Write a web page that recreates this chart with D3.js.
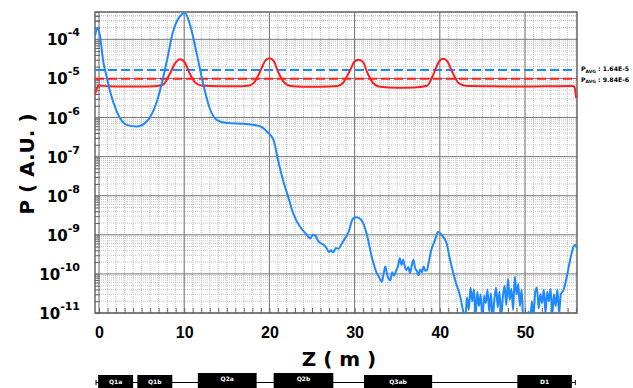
<!DOCTYPE html>
<html>
<head>
<meta charset="utf-8">
<script src="https://cdn.jsdelivr.net/npm/d3@7"></script>
<style>
  body { margin: 0; background: #fff; }
  svg { display: block; font-family: "DejaVu Sans", Verdana, sans-serif; }
</style>
</head>
<body>
<svg id="chart"></svg>
<script>
// blue: P along Z (m)
var blueZ = [-0.47, -0.2, 0.1, 0.5, 0.9, 1.3, 2.1, 3.25, 4.4, 5.6, 6.8, 7.95, 8.7, 9.7, 10.1, 10.7, 11.5, 12.25, 13.0, 13.8, 15.0, 17.3, 18.9, 19.7, 20.5,
  21.0, 21.6, 22.2, 22.8, 23.6, 24.4, 24.8, 25.1, 25.4, 25.7, 26.1, 26.4, 26.7, 27.0, 27.2, 27.5, 27.8, 28.1, 28.5, 29.3, 29.8, 30.2, 30.8, 31.4, 32.0, 32.6,
  32.9, 33.2, 33.4, 33.6, 33.8, 34.0, 34.2, 34.4, 34.6, 34.9, 35.1, 35.3, 35.5, 35.7, 35.9, 36.1, 36.3, 36.5, 36.7, 36.9, 37.1, 37.3, 37.5, 37.7, 37.9,
  38.1, 38.3, 38.5, 38.7, 39.0, 39.4, 39.8, 40.2, 40.8, 41.2, 41.8, 42.4, 42.8,
  43.0, 43.2, 43.4, 43.6, 43.8, 44.0, 44.2, 44.4, 44.6, 44.8, 45.0, 45.2, 45.4, 45.6, 45.8, 46.0, 46.2, 46.4, 46.6, 46.8,
  47.0, 47.2, 47.4, 47.6, 47.8, 48.0, 48.2, 48.4, 48.6, 48.8, 49.0, 49.2, 49.4, 49.6, 49.8, 50.0, 50.2, 50.4, 50.6, 50.8,
  51.0, 51.2, 51.4, 51.6, 51.8, 52.0, 52.2, 52.4, 52.6, 52.8, 53.0, 53.2, 53.4, 53.6, 53.8, 54.0, 54.2, 54.5, 54.9, 55.3, 55.7, 55.9, 56.1];
var blueP = [1.2e-4, 1.9e-4, 1.3e-4, 2.7e-5, 1.1e-5, 4.6e-6, 1.4e-6, 6.5e-7, 5.9e-7, 7.9e-7, 2.6e-6, 2.7e-5, 1.6e-4, 4.3e-4, 4.7e-4, 2.3e-4, 4.0e-5, 6.9e-6, 1.7e-6, 8.7e-7, 7.2e-7, 6.8e-7, 6.0e-7, 4.4e-7, 2.6e-7,
  8.3e-8, 2.5e-8, 9.5e-9, 3.5e-9, 1.6e-9, 1.0e-9, 8.0e-10, 1.0e-9, 9.5e-10, 7.0e-10, 6.0e-10, 5.5e-10, 4.6e-10, 3.6e-10, 4.0e-10, 3.6e-10, 4.6e-10, 4.4e-10, 6.0e-10, 1.2e-9, 2.6e-9, 2.8e-9, 2.4e-9, 1.1e-9, 2.8e-10, 1.05e-10,
  8.0e-11, 6.3e-11, 1.0e-10, 1.55e-10, 1.0e-10, 7.5e-11, 6.9e-11, 1.1e-10, 9.0e-11, 1.26e-10, 1.6e-10, 2.5e-10, 1.7e-10, 2.3e-10, 1.5e-10, 1.26e-10, 1.5e-10, 1.05e-10, 1.6e-10, 2.3e-10, 1.4e-10, 1.2e-10, 9.3e-11, 1.3e-10, 1.1e-10,
  1.55e-10, 1.2e-10, 1.26e-10, 2.0e-10, 4.1e-10, 7.0e-10, 1.2e-9, 1.0e-9, 6.0e-10, 2.3e-10, 6.9e-11, 2.6e-11, 1.0e-11,
  8e-12, 2.5e-11, 1.2e-11, 4.5e-11, 2.0e-11, 4.0e-11, 9e-12, 3.5e-11, 1.5e-11, 3e-11, 6e-12, 2.8e-11, 1.8e-11, 4e-11, 1.1e-11, 3.2e-11, 7e-12, 2.2e-11, 4.5e-11, 1.4e-11,
  3.5e-11, 8e-12, 2.6e-11, 5e-11, 1.6e-11, 7.5e-11, 2.2e-11, 4.2e-11, 1.2e-11, 8.5e-11, 3e-11, 5.5e-11, 1.5e-11, 4e-11, 6e-12, 5e-12, 4e-12, 1.1e-11, 6e-12, 2e-11,
  9e-12, 3.5e-11, 4.5e-11, 1.3e-11, 3e-11, 1.8e-11, 4e-11, 1e-11, 3.5e-11, 2e-11, 4.2e-11, 9e-12, 3e-11, 1.5e-11, 4e-11, 1e-11, 3e-11, 3.8e-11, 8.5e-11, 2.3e-10, 5e-10, 5.5e-10, 4.5e-10];

// red: P along Z (m)
var redZ = [-0.47, -0.3, 0.0, 1, 3, 5, 6.5, 7.5, 8.3, 8.9, 9.5, 10.1, 10.6, 11.3, 12, 14, 16, 17.5, 18.2, 18.9, 19.5, 20.0, 20.5, 21.0, 21.8, 22.5,
  24, 26, 28, 28.6, 29.4, 30.0, 30.5, 31.0, 31.5, 32.2, 33, 35, 37, 38.5, 39.2, 39.9, 40.4, 40.9, 41.5, 42.2, 43, 46, 50, 53, 55.6, 55.8, 56.0];
var redP = [3.8e-6, 5.2e-6, 6.6e-6, 6.3e-6, 6.2e-6, 6.2e-6, 6.3e-6, 6.9e-6, 1.3e-5, 2.4e-5, 3.1e-5, 2.5e-5, 1.4e-5, 7.8e-6, 6.6e-6, 6.3e-6, 6.3e-6, 6.5e-6, 7.8e-6, 1.5e-5, 2.8e-5, 3.3e-5, 2.8e-5, 1.5e-5, 7.6e-6, 6.4e-6,
  6.1e-6, 6.1e-6, 6.4e-6, 7.5e-6, 1.5e-5, 2.7e-5, 3.0e-5, 2.6e-5, 1.4e-5, 7.5e-6, 6.1e-6, 5.8e-6, 5.9e-6, 6.5e-6, 1.2e-5, 2.7e-5, 3.2e-5, 2.7e-5, 1.4e-5, 7.6e-6, 6.5e-6, 6.3e-6, 6.2e-6, 6.3e-6, 6.4e-6, 6.0e-6, 3.2e-6];

var avgBlue = 1.64e-5;
var avgRed = 9.84e-6;
var avgLabels = [": 1.64E-5", ": 9.84E-6"];

var xTickLabels = [0, 10, 20, 30, 40, 50];
var yDecades = [-11, -10, -9, -8, -7, -6, -5, -4];

// beam line elements
var elemNames = ["Q1a", "Q1b", "Q2a", "Q2b", "Q3ab", "D1"];
var elemStart = [-0.1, 4.5, 11.6, 20.5, 31.1, 49.1];
var elemEnd = [4.0, 8.6, 18.5, 27.5, 39.1, 55.5];
var lineExtent = [-0.35, 55.9];

var svgWidth = 633, svgHeight = 388;
var margin = { top: 12, right: 56, bottom: 75, left: 95 };

var svg = d3.select("#chart")
    .attr("width", svgWidth)
    .attr("height", svgHeight);

var x = d3.scaleLinear()
    .domain([-0.47, 56.1])
    .range([margin.left, svgWidth - margin.right]);

var y = d3.scaleLog()
    .domain([1e-11, 5e-4])
    .range([svgHeight - margin.bottom, margin.top]);

var x0 = x.range()[0], x1 = x.range()[1];
var yTop = y.range()[1], yBot = y.range()[0];

svg.append("clipPath").attr("id", "plotClip")
  .append("rect")
    .attr("x", x0).attr("y", yTop)
    .attr("width", x1 - x0).attr("height", yBot - yTop);

var minorX = d3.range(0, 57, 1);
var minorY = [];
yDecades.forEach(function(e) {
  for (var k = 2; k <= 9; k++) {
    var v = k * Math.pow(10, e);
    if (v <= 5e-4) minorY.push(v);
  }
});
minorY.push(2e-4, 3e-4, 4e-4);
var majorY = yDecades.map(function(e) { return Math.pow(10, e); });

var grid = svg.append("g");

grid.selectAll(".mx").data(minorX).enter().append("line")
    .attr("x1", d => x(d)).attr("x2", d => x(d))
    .attr("y1", yTop).attr("y2", yBot)
    .attr("stroke", "#c4c4c4").attr("stroke-dasharray", "1,1");

grid.selectAll(".my").data(minorY).enter().append("line")
    .attr("x1", x0).attr("x2", x1)
    .attr("y1", d => y(d)).attr("y2", d => y(d))
    .attr("stroke", "#c4c4c4").attr("stroke-dasharray", "1,1");

grid.selectAll(".Mx").data(xTickLabels).enter().append("line")
    .attr("x1", d => x(d)).attr("x2", d => x(d))
    .attr("y1", yTop).attr("y2", yBot)
    .attr("stroke", "#777").attr("stroke-width", 1);

grid.selectAll(".My").data(majorY).enter().append("line")
    .attr("x1", x0).attr("x2", x1)
    .attr("y1", d => y(d)).attr("y2", d => y(d))
    .attr("stroke", "#777").attr("stroke-width", 1);

// bottom axis: small inner ticks every metre, labels every 10
var xAxis = svg.append("g")
    .attr("transform", "translate(0," + yBot + ")")
    .call(d3.axisBottom(x)
      .tickValues(minorX)
      .tickSize(-5)
      .tickPadding(14)
      .tickFormat(function(d) { return d % 10 === 0 ? d : ""; }));
xAxis.select(".domain").remove();
xAxis.selectAll("line").attr("stroke", "#666");
xAxis.selectAll("text")
    .attr("font-size", 16).attr("font-weight", "bold").attr("fill", "#000");

// left axis: inner ticks at log minors, decade labels with superscript
var yAxis = svg.append("g")
    .attr("transform", "translate(" + x0 + ",0)")
    .call(d3.axisLeft(y)
      .tickValues(minorY.concat(majorY))
      .tickSize(-5)
      .tickFormat(""));
yAxis.select(".domain").remove();
yAxis.selectAll("line").attr("stroke", "#666");

var yLab = svg.append("g").selectAll("text").data(yDecades).enter().append("text")
    .attr("x", 80)
    .attr("y", d => y(Math.pow(10, d)) + 6)
    .attr("text-anchor", "end")
    .attr("font-weight", "bold")
    .attr("fill", "#000");
yLab.append("tspan").attr("font-size", 15).text("10");
yLab.append("tspan").attr("font-size", 11).attr("dy", -9).text(d => "-" + Math.abs(d));

// frame
svg.append("rect")
    .attr("x", x0).attr("y", yTop)
    .attr("width", x1 - x0).attr("height", yBot - yTop)
    .attr("fill", "none").attr("stroke", "#666").attr("stroke-width", 1.5);

var plot = svg.append("g").attr("clip-path", "url(#plotClip)");

plot.append("line")
    .attr("x1", x0).attr("x2", x1)
    .attr("y1", y(avgBlue)).attr("y2", y(avgBlue))
    .attr("stroke", "#1e88ff").attr("stroke-width", 2).attr("stroke-dasharray", "9,4");
plot.append("line")
    .attr("x1", x0).attr("x2", x1)
    .attr("y1", y(avgRed)).attr("y2", y(avgRed))
    .attr("stroke", "#ff1e1e").attr("stroke-width", 2).attr("stroke-dasharray", "9,4");

var line = d3.line()
    .curve(d3.curveMonotoneX)
    .x(d => x(d[0]))
    .y(d => y(d[1]));

plot.append("path")
    .datum(d3.zip(redZ, redP))
    .attr("fill", "none").attr("stroke", "#ff1e1e").attr("stroke-width", 2)
    .attr("stroke-linejoin", "round")
    .attr("d", line);

plot.append("path")
    .datum(d3.zip(blueZ, blueP))
    .attr("fill", "none").attr("stroke", "#1e88ff").attr("stroke-width", 2)
    .attr("stroke-linejoin", "round")
    .attr("d", line);

// P_AVG labels
[avgBlue, avgRed].forEach(function(v, i) {
  var t = svg.append("text")
      .attr("x", x1 + 4)
      .attr("y", y(v) + (i === 0 ? 1 : 3))
      .attr("font-size", 6.2).attr("font-weight", "bold").attr("fill", "#000");
  t.append("tspan").text("P");
  t.append("tspan").attr("font-size", 4.5).attr("dy", 1.5).text("AVG");
  t.append("tspan").attr("dy", -1.5).text(" " + avgLabels[i]);
});

// titles
svg.append("text")
    .attr("x", (x0 + x1) / 2 + 3).attr("y", 366)
    .attr("text-anchor", "middle")
    .attr("font-size", 20).attr("font-weight", "bold")
    .text("Z ( m )");

svg.append("text")
    .attr("transform", "translate(34," + 164 + ") rotate(-90)")
    .attr("text-anchor", "middle")
    .attr("font-size", 20).attr("font-weight", "bold")
    .text("P ( A.U. )");

// beam line layout
var beam = svg.append("g");
beam.append("line")
    .attr("x1", x(lineExtent[0])).attr("x2", x(lineExtent[1]))
    .attr("y1", 382.5).attr("y2", 382.5)
    .attr("stroke", "#000").attr("stroke-width", 1);
lineExtent.forEach(function(z) {
  beam.append("line")
      .attr("x1", x(z)).attr("x2", x(z))
      .attr("y1", 380).attr("y2", 385)
      .attr("stroke", "#000");
});
var elems = beam.selectAll(".el").data(elemNames).enter().append("g");
elems.append("rect")
    .attr("x", (d, i) => x(elemStart[i]))
    .attr("width", (d, i) => x(elemEnd[i]) - x(elemStart[i]))
    .attr("y", (d, i) => (d === "Q2a" || d === "Q2b") ? 373 : 375)
    .attr("height", 20)
    .attr("fill", "#000");
elems.append("text")
    .attr("x", (d, i) => (x(elemStart[i]) + x(elemEnd[i])) / 2)
    .attr("y", (d, i) => (d === "Q2a" || d === "Q2b") ? 381 : 384)
    .attr("text-anchor", "middle")
    .attr("font-size", 6).attr("font-weight", "bold").attr("fill", "#fff")
    .text(d => d);
</script>
</body>
</html>
